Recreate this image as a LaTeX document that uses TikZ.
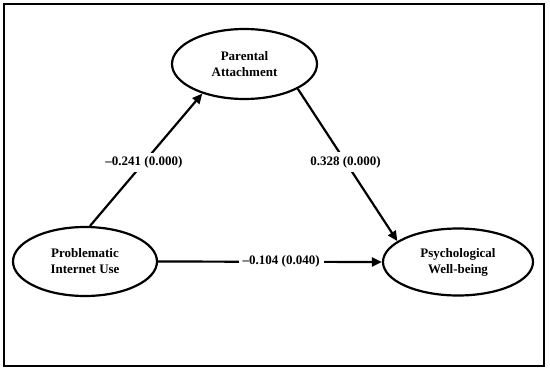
\documentclass[tikz,border=0pt]{standalone}
\usepackage{fontspec}
\setmainfont{Liberation Serif}
\usetikzlibrary{shapes.geometric,arrows.meta}
\begin{document}
\begin{tikzpicture}[x=1pt,y=-1pt,
  construct/.style={ellipse,draw,line width=2.2pt,align=center,inner sep=0pt,
    font=\bfseries\fontsize{13}{16}\selectfont},
  path/.style={line width=2.2pt,-{Triangle[length=10pt,width=9pt]}},
  coef/.style={fill=white,inner sep=4pt,font=\bfseries\fontsize{13}{16}\selectfont}]
\useasboundingbox (0,0) rectangle (550,372);
\draw[line width=2.5pt] (4,4) rectangle (544,366);
\node[construct,minimum width=145pt,minimum height=70pt] (pa) at (244.5,64) {Parental\\Attachment};
\node[construct,minimum width=144pt,minimum height=69pt] (piu) at (85,261.5) {Problematic\\Internet Use};
\node[construct,minimum width=150pt,minimum height=67pt] (pw) at (458,262) {Psychological\\Well-being};
\draw[path] (piu.82) -- node[coef,pos=0.48] {\textendash0.241 (0.000)} (pa.215);
\draw[path] (pa.-25) -- node[coef,pos=0.48] {0.328 (0.000)} (pw.161);
\draw[path] (piu.east) -- node[coef,pos=0.55] {\textendash0.104 (0.040)} (pw.west);
\end{tikzpicture}
\end{document}
